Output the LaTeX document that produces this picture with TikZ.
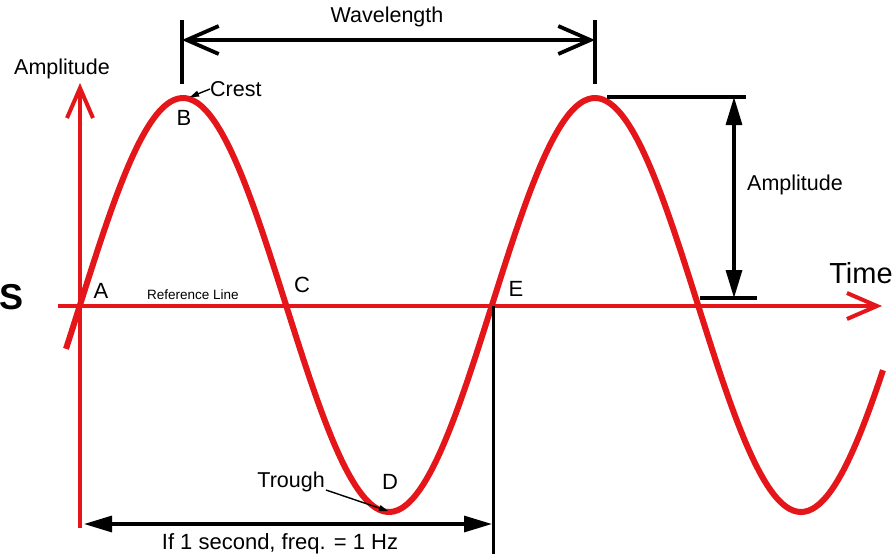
\documentclass[tikz,border=0pt]{standalone}
\usepackage{fontspec}
\setmainfont{Liberation Sans}
\usetikzlibrary{arrows.meta}
\definecolor{wred}{RGB}{228,22,26}
\tikzset{
  lbl/.style={inner sep=0pt, font=\fontsize{21.5}{21.5}\selectfont},
  pt/.style={inner sep=0pt, font=\fontsize{22}{22}\selectfont},
  axis/.style={wred, line width=4pt, -{Straight Barb[length=30pt,width=26pt,line width=4pt]}},
  dim/.style={black, line width=3.6pt},
  barb/.style={black, line width=3.8pt, {Straight Barb[length=32pt,width=28pt,line width=3.8pt]}-{Straight Barb[length=32pt,width=28pt,line width=3.8pt]}},
  tri/.style={black, line width=3.2pt, {Triangle[length=28pt,width=16pt]}-{Triangle[length=28pt,width=16pt]}},
  ptr/.style={black, line width=1.4pt, -{Triangle[length=9pt,width=6pt]}}
}
\begin{document}
\begin{tikzpicture}[x=1pt,y=-1pt]
\useasboundingbox (0,0) rectangle (896,558);
\fill[white] (0,0) rectangle (896,558);
% coordinates
\coordinate (vaxb) at (80,528);
\coordinate (vaxt) at (80,83);
\coordinate (haxl) at (58,306);
\coordinate (haxr) at (882,306);
\coordinate (wl1t) at (182,20);
\coordinate (wl1b) at (182,84);
\coordinate (wl2t) at (595,20);
\coordinate (wl2b) at (595,84);
\coordinate (wl1) at (182,40);
\coordinate (wl2) at (595,40);
\coordinate (am1l) at (607,97);
\coordinate (am1r) at (746,97);
\coordinate (am2l) at (700,298);
\coordinate (am2r) at (757,298);
\coordinate (amt) at (734,97);
\coordinate (amb) at (734,298);
\coordinate (fr1) at (84,524);
\coordinate (fr2) at (492,524);
\coordinate (etop) at (493,306);
\coordinate (ebot) at (493,554);
\coordinate (crestpt) at (190,97);
\coordinate (troughpt) at (388,511);
\coordinate (tr0) at (326,490);
% axes
\draw[axis] (haxl) -- (haxr);
\draw[axis] (vaxb) -- (vaxt);
% wave
\draw[wred, line width=6pt, smooth] plot[domain=66:883, samples=220] ({\x},{305-207*sin((\x-80)/412*360)});
% wavelength
\draw[dim] (wl1t) -- (wl1b);
\draw[dim] (wl2t) -- (wl2b);
\draw[barb] (wl1) -- (wl2);
\node[lbl] (wl) at (387,17) {Wavelength};
% amplitude dimension
\draw[dim] (am1l) -- (am1r);
\draw[dim] (am2l) -- (am2r);
\draw[tri] (amt) -- (amb);
\node[lbl] (ampr) at (795,185) {Amplitude};
% frequency
\draw[black, line width=3pt] (etop) -- (ebot);
\draw[tri] (fr1) -- (fr2);
\node[pt] (freq) at (280,544) {If 1 second, freq. = 1 Hz};
% labels
\node[lbl] (ampl) at (62,69) {Amplitude};
\node[pt, font=\fontsize{29}{29}\selectfont] (time) at (861,273) {Time};
\node[lbl, anchor=west] (crest) at (210,89) {Crest};
\node[lbl, anchor=east] (trough) at (325,482) {Trough};
\draw[ptr] (crest.west) -- (crestpt);
\draw[ptr] (tr0) -- (troughpt);
\node[pt] (B) at (184,118) {B};
\node[pt] (A) at (101,291) {A};
\node[pt] (C) at (302,285) {C};
\node[pt] (E) at (516,289) {E};
\node[pt] (D) at (390,482) {D};
\node[inner sep=0pt, font=\fontsize{13.5}{13.5}\selectfont] (ref) at (193,295) {Reference Line};
\node[inner sep=0pt, font=\bfseries\fontsize{36}{36}\selectfont] (s) at (12,297) {S};
\end{tikzpicture}
\end{document}
